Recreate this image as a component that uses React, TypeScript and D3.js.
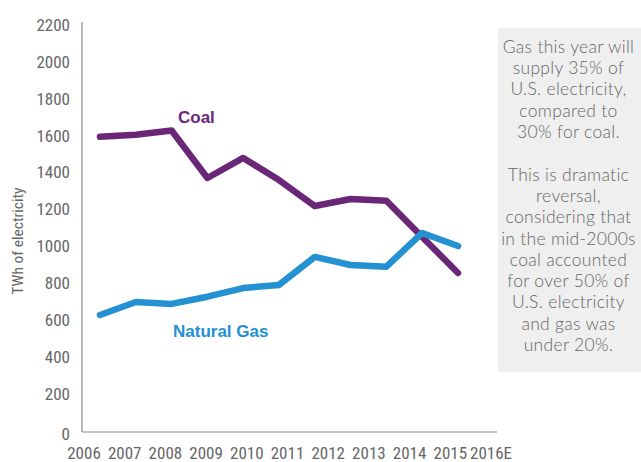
import React from "react";
import * as d3 from "d3";

const xLabels = ["2006", "2007", "2008", "2009", "2010", "2011", "2012", "2013", "2014", "2015", "2016E"];
const yTicks = [0, 200, 400, 600, 800, 1000, 1200, 1400, 1600, 1800, 2000, 2200];
const pointIndex = [0, 1, 2, 3, 4, 5, 6, 7, 8, 9, 10];
const coal = [1602, 1613, 1636, 1378, 1487, 1367, 1226, 1264, 1255, 1058, 863];
const gas = [635, 705, 695, 734, 781, 798, 950, 906, 897, 1080, 1009];
const noteLines = [
  "Gas this year will",
  "supply 35% of",
  "U.S. electricity,",
  "compared to",
  "30% for coal.",
  "",
  "This is dramatic",
  "reversal,",
  "considering that",
  "in the mid-2000s",
  "coal accounted",
  "for over 50% of",
  "U.S. electricity",
  "and gas was",
  "under 20%.",
];

const W = 641;
const H = 462;
const narrow = "'Liberation Sans Narrow', 'Arial Narrow', 'Roboto Condensed', sans-serif";

export default function App() {
  const y = d3.scaleLinear().domain([0, 2200]).range([432, 26.5]);
  const xLab = d3.scalePoint<string>().domain(xLabels).range([84, 491]);
  const xPt = d3.scaleLinear().domain([0, 10]).range([100, 458]);
  const line = d3
    .line<number>()
    .x((_, i) => xPt(pointIndex[i]))
    .y((d) => y(d))
    .curve(d3.curveLinear);

  return (
    <svg
      width={W}
      height={H}
      style={{ position: "absolute", left: 0, top: 0, background: "#fff" }}
    >
      {/* annotation box */}
      <rect x={498} y={28} width={143} height={344} fill="#efefef" />
      {noteLines.map((t, i) =>
        t ? (
          <text
            key={i}
            x={568.5}
            y={48.5 + i * 21.3}
            dominantBaseline="middle"
            fontFamily="Lato, 'Open Sans', sans-serif"
            fontWeight={300}
            fontSize={17.5}
            letterSpacing={0.3}
            fill="#666"
            textAnchor="middle"
          >
            {t}
          </text>
        ) : null
      )}

      {/* axes */}
      <line x1={82} x2={82} y1={22} y2={432} stroke="#8a8a8a" strokeWidth={1.2} />
      <line x1={82} x2={497} y1={432} y2={432} stroke="#8a8a8a" strokeWidth={1.2} />

      {yTicks.map((t) => (
        <text
          key={t}
          x={70}
          y={y(t) + (t === 0 ? 4 : 0)}
          textAnchor="end"
          dominantBaseline="middle"
          fontFamily={narrow}
          fontSize={17}
          fill="#666"
        >
          {t}
        </text>
      ))}
      {xLabels.map((l) => (
        <text
          key={l}
          x={xLab(l)}
          y={458.5}
          textAnchor="middle"
          fontFamily={narrow}
          fontSize={17}
          fill="#666"
        >
          {l}
        </text>
      ))}
      <text
        transform="translate(23,241) rotate(-90)"
        textAnchor="middle"
        fontFamily={narrow}
        fontSize={15.5}
        fill="#666"
      >
        TWh of electricity
      </text>

      {/* lines */}
      <path
        d={line(coal) || ""}
        fill="none"
        stroke="#6b2777"
        strokeWidth={6.5}
        strokeLinejoin="round"
        strokeLinecap="round"
      />
      <path
        d={line(gas) || ""}
        fill="none"
        stroke="#2391d2"
        strokeWidth={6.5}
        strokeLinejoin="round"
        strokeLinecap="round"
      />

      <text
        x={178}
        y={123}
        fontFamily="'Liberation Sans', Arial, sans-serif"
        fontWeight="bold"
        fontSize={17}
        fill="#6b2777"
      >
        Coal
      </text>
      <text
        x={173}
        y={337}
        fontFamily="'Liberation Sans', Arial, sans-serif"
        fontWeight="bold"
        fontSize={17}
        fill="#2391d2"
      >
        Natural Gas
      </text>
    </svg>
  );
}
